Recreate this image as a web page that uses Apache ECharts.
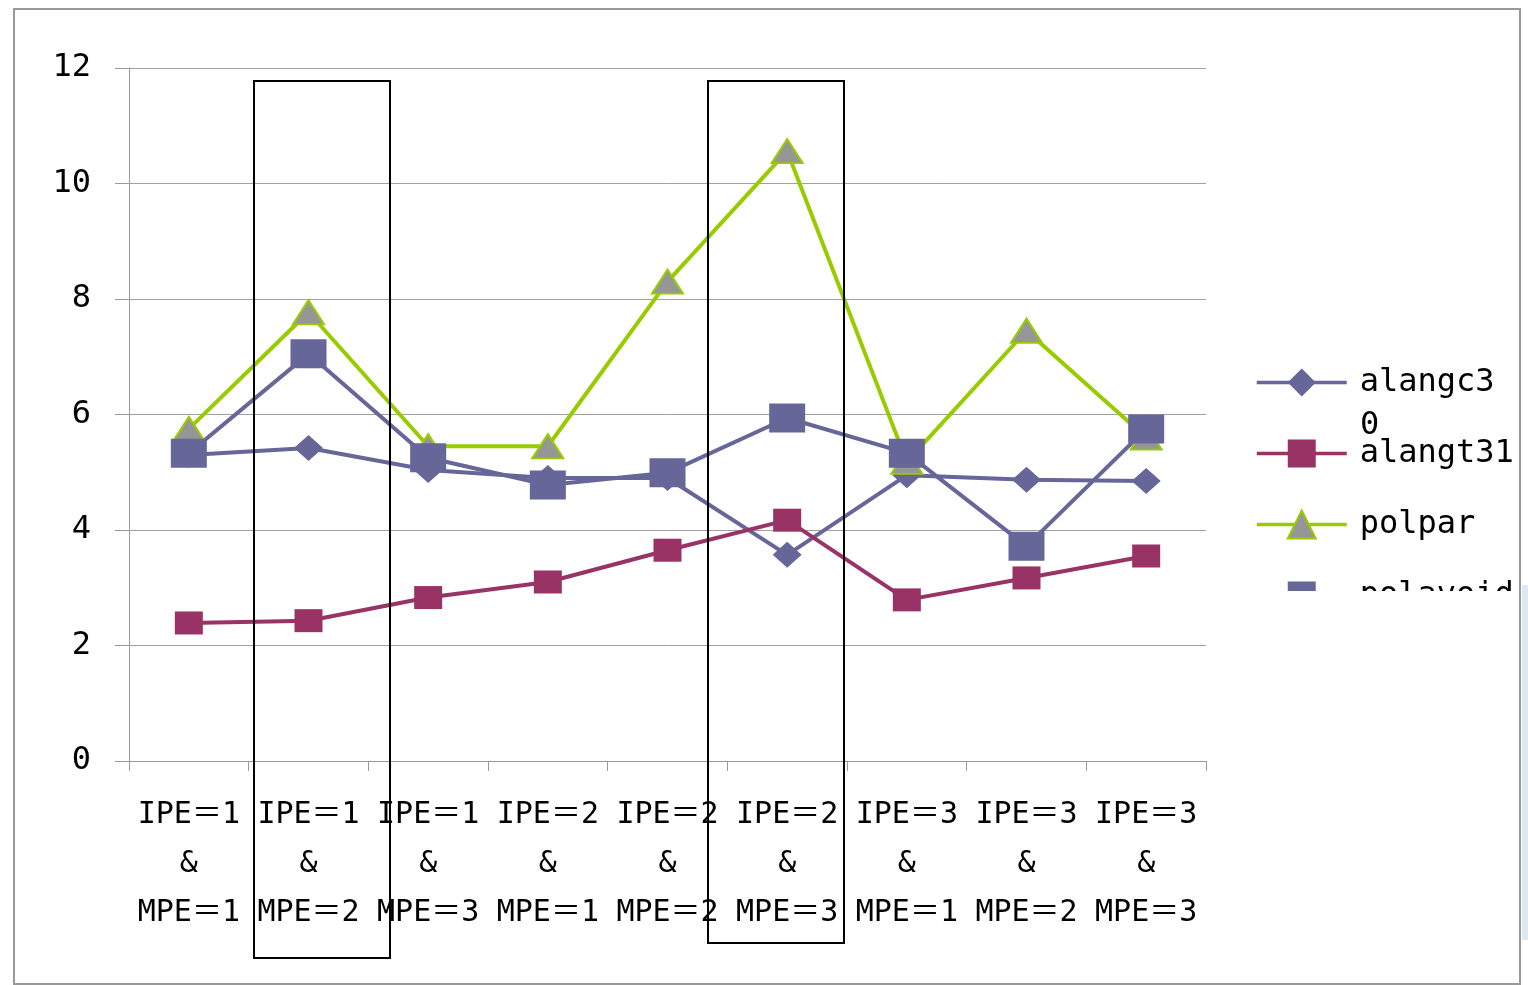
<!DOCTYPE html>
<html>
<head>
<meta charset="utf-8">
<script src="https://cdn.jsdelivr.net/npm/echarts@6/dist/echarts.min.js"></script>
<style>
html,body{margin:0;padding:0;background:#fff;}
#chart{width:1528px;height:985px;}
</style>
</head>
<body>
<div id="chart"></div>
<script>
const categories = [
  'IPE＝1\n&\nMPE＝1', 'IPE＝1\n&\nMPE＝2', 'IPE＝1\n&\nMPE＝3',
  'IPE＝2\n&\nMPE＝1', 'IPE＝2\n&\nMPE＝2', 'IPE＝2\n&\nMPE＝3',
  'IPE＝3\n&\nMPE＝1', 'IPE＝3\n&\nMPE＝2', 'IPE＝3\n&\nMPE＝3'
];
const seriesNames = ['alangc30', 'alangt31', 'polpar', 'polavoid'];
const alangc30 = [5.30, 5.42, 5.04, 4.90, 4.90, 3.57, 4.95, 4.87, 4.85];
const alangt31 = [2.39, 2.43, 2.83, 3.10, 3.65, 4.17, 2.79, 3.17, 3.55];
const polpar   = [5.75, 7.77, 5.45, 5.45, 8.30, 10.56, 5.18, 7.45, 5.60];
const polavoid = [5.33, 7.05, 5.25, 4.78, 4.99, 5.94, 5.33, 3.72, 5.75];
const yTicks = [0, 2, 4, 6, 8, 10, 12];

const FONT = "'DejaVu Sans Mono', 'Noto Sans CJK JP', monospace";
const chart = echarts.init(document.getElementById('chart'));

const option = {
  backgroundColor: '#fff',
  animation: false,
  grid: { left: 129, right: 322, top: 68, bottom: 224, containLabel: false },
  xAxis: {
    type: 'category',
    data: categories,
    boundaryGap: true,
    axisLine: { show: true, lineStyle: { color: '#9a9a9a', width: 1 } },
    axisTick: { show: true, length: 10, lineStyle: { color: '#9a9a9a' } },
    axisLabel: {
      interval: 0, hideOverlap: false, margin: 30,
      fontFamily: FONT, fontSize: 30, lineHeight: 49, color: '#000'
    },
    splitLine: { show: false }
  },
  yAxis: {
    type: 'value',
    min: yTicks[0], max: yTicks[yTicks.length - 1], interval: 2,
    axisLine: { show: true, lineStyle: { color: '#9a9a9a', width: 1 } },
    axisTick: { show: true, length: 14, lineStyle: { color: '#9a9a9a' } },
    axisLabel: { margin: 38, fontFamily: FONT, fontSize: 32, color: '#000', padding: [0, 0, 10, 0] },
    splitLine: { show: true, lineStyle: { color: '#a0a0a0', width: 1 } }
  },
  legend: {
    orient: 'vertical',
    left: 1255, top: 366.5,
    padding: 0,
    itemWidth: 90, itemHeight: 35, itemGap: 39,
    lineStyle: { width: 3.5 },
    formatter: function (name) { return name === seriesNames[0] ? name.slice(0, -1) : name; },
    textStyle: { fontFamily: FONT, fontSize: 32, color: '#000', padding: [0, 0, 6, 8] },
    data: seriesNames
  },
  series: [
    {
      name: seriesNames[0], type: 'line', data: alangc30,
      symbol: 'diamond', symbolSize: [29, 26], showAllSymbol: true,
      lineStyle: { color: '#666699', width: 4 },
      itemStyle: { color: '#666699' }
    },
    {
      name: seriesNames[1], type: 'line', data: alangt31,
      symbol: 'rect', symbolSize: [28, 23], showAllSymbol: true,
      lineStyle: { color: '#993366', width: 4 },
      itemStyle: { color: '#993366' }
    },
    {
      name: seriesNames[2], type: 'line', data: polpar,
      symbol: 'triangle', symbolSize: [31, 24], showAllSymbol: true,
      lineStyle: { color: '#99cc00', width: 4 },
      itemStyle: { color: '#969696', borderColor: '#99cc00', borderWidth: 2 }
    },
    {
      name: seriesNames[3], type: 'line', data: polavoid,
      symbol: 'rect', symbolSize: [36, 29], showAllSymbol: true,
      lineStyle: { color: '#666699', width: 4 },
      itemStyle: { color: '#666699' }
    }
  ],
  graphic: [
    { type: 'text', z: 100, left: 1360, top: 410, style: { text: seriesNames[0].slice(-1), font: "32px " + FONT, fill: '#000' } },
    { type: 'rect', z: 100, shape: { x: 1245, y: 591, width: 272, height: 60 }, style: { fill: '#fff' } },
    { type: 'rect', z: 101, shape: { x: 254, y: 81, width: 136, height: 877 }, style: { fill: 'none', stroke: '#000', lineWidth: 2 } },
    { type: 'rect', z: 101, shape: { x: 708, y: 81, width: 136, height: 862 }, style: { fill: 'none', stroke: '#000', lineWidth: 2 } },
    { type: 'rect', z: 99, shape: { x: 1522, y: 585, width: 6, height: 355 }, style: { fill: '#dde8f2' } },
    { type: 'rect', z: 102, shape: { x: 14, y: 9, width: 1506, height: 975 }, style: { fill: 'none', stroke: '#999', lineWidth: 2 } }
  ]
};
chart.setOption(option);
</script>
</body>
</html>
